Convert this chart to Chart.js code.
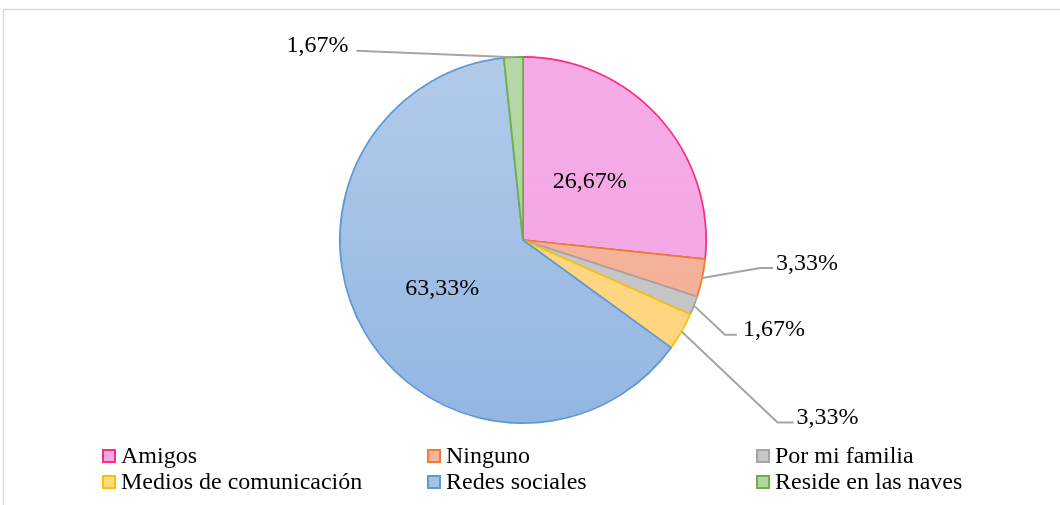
<!DOCTYPE html>
<html>
<head>
<meta charset="utf-8">
<script src="https://cdn.jsdelivr.net/npm/chart.js@4.4.1/dist/chart.umd.min.js"></script>
<style>
  html, body { margin: 0; padding: 0; background: #ffffff; }
  #wrap { width: 1060px; height: 505px; position: relative; }
</style>
</head>
<body>
<div id="wrap"><canvas id="pie" width="1060" height="505"></canvas></div>
<script>
// Categories and their shares (%)
const categories = ['Amigos', 'Ninguno', 'Por mi familia', 'Medios de comunicación', 'Redes sociales', 'Reside en las naves'];
const percentages = [26.67, 3.33, 1.67, 3.33, 63.33, 1.67];

// Slice styling: gradient top/bottom fills and outline colours
const fillTop    = ['#f5ace6', '#f6bba6', '#cccccc', '#ffdb8d', '#b2cbe9', '#b6d8a7'];
const fillBottom = ['#f2a5e1', '#f3ab90', '#c2c2c2', '#ffd37a', '#93b6e2', '#a9d096'];
const outline    = ['#fb2d7e', '#ed7d31', '#a5a5a5', '#ffc000', '#5b9bd5', '#70ad47'];
const legendFill = ['#f4a9e3', '#f5b39b', '#c8c8c8', '#ffd884', '#a6c3e7', '#b2d5a2'];

// Where each percentage label goes: inside the slice, or on a leader line
const labelPlacement = [
  { inside: true, r: 0.49 },
  { elbow: [58, -10], run: 13, gap: 3 },
  { elbow: [31, 29], run: 12, gap: 6 },
  { elbow: [96, 91], run: 16, gap: 3 },
  { inside: true, r: 0.51 },
  { elbow: [-157, -6.5], run: 0, gap: 8, toLeft: true }
];

const FONT = '"Liberation Serif", "Times New Roman", serif';
const FONT_SIZE = 24;
const fmt = v => v.toFixed(2).replace('.', ',') + '%';

function sliceGradient(ctx) {
  const chart = ctx.chart;
  const area = chart.chartArea;
  if (!area) return fillTop[ctx.dataIndex];
  const g = chart.ctx.createLinearGradient(0, area.top, 0, area.bottom);
  g.addColorStop(0, fillTop[ctx.dataIndex]);
  g.addColorStop(1, fillBottom[ctx.dataIndex]);
  return g;
}

// Light outer frame
const framePlugin = {
  id: 'frame',
  beforeDraw(chart) {
    const c = chart.ctx;
    c.save();
    c.strokeStyle = '#d9d9d9';
    c.lineWidth = 1.5;
    c.strokeRect(3.5, 9.5, 1200, 600);
    c.restore();
  }
};

// Percentage labels with leader lines
const valueLabelPlugin = {
  id: 'valueLabels',
  afterDatasetsDraw(chart) {
    const c = chart.ctx;
    const meta = chart.getDatasetMeta(0);
    c.save();
    c.font = FONT_SIZE + 'px ' + FONT;
    c.fillStyle = '#000000';
    meta.data.forEach((arc, i) => {
      const p = arc.getProps(['x', 'y', 'startAngle', 'endAngle', 'outerRadius'], true);
      const mid = (p.startAngle + p.endAngle) / 2;
      const place = labelPlacement[i];
      const text = fmt(percentages[i]);
      if (place.inside) {
        const rr = p.outerRadius * place.r;
        const lx = p.x + Math.cos(mid) * rr;
        const ly = p.y + Math.sin(mid) * rr;
        c.textAlign = 'center';
        c.textBaseline = 'alphabetic';
        c.fillText(text, lx, ly + 8);
        return;
      }
      const sx = p.x + Math.cos(mid) * p.outerRadius;
      const sy = p.y + Math.sin(mid) * p.outerRadius;
      const ex = sx + place.elbow[0];
      const ey = sy + place.elbow[1];
      const dir = place.toLeft ? -1 : 1;
      const hx = ex + dir * place.run;
      c.strokeStyle = '#a5a5a5';
      c.lineWidth = 2;
      c.beginPath();
      c.moveTo(sx, sy);
      c.lineTo(ex, ey);
      c.lineTo(hx, ey);
      c.stroke();
      c.textAlign = place.toLeft ? 'right' : 'left';
      c.textBaseline = 'alphabetic';
      c.fillText(text, hx + dir * place.gap, ey + 1.5);
    });
    c.restore();
  }
};

// Legend in a three-column grid under the pie
const legendColumns = [103, 428, 757];
const legendRows = [456, 482];
const gridLegendPlugin = {
  id: 'gridLegend',
  afterDraw(chart) {
    const c = chart.ctx;
    const labels = chart.data.labels;
    c.save();
    c.font = FONT_SIZE + 'px ' + FONT;
    c.textBaseline = 'middle';
    c.textAlign = 'left';
    labels.forEach((lab, i) => {
      const bx = legendColumns[i % 3];
      const cy = legendRows[Math.floor(i / 3)];
      const s = 12;
      c.fillStyle = legendFill[i];
      c.fillRect(bx, cy - s / 2, s, s);
      c.strokeStyle = outline[i];
      c.lineWidth = 2;
      c.strokeRect(bx, cy - s / 2, s, s);
      c.fillStyle = '#000000';
      c.fillText(lab, bx + 18, cy + 1);
    });
    c.restore();
  }
};

new Chart(document.getElementById('pie'), {
  type: 'pie',
  data: {
    labels: categories,
    datasets: [{
      data: percentages,
      backgroundColor: sliceGradient,
      borderColor: outline,
      borderWidth: 1.75,
      borderAlign: 'center'
    }]
  },
  options: {
    responsive: false,
    animation: false,
    rotation: 0,
    layout: { padding: { top: 56, bottom: 81, left: 330, right: 344 } },
    plugins: {
      legend: { display: false },
      tooltip: { enabled: false }
    }
  },
  plugins: [framePlugin, valueLabelPlugin, gridLegendPlugin]
});
</script>
</body>
</html>
